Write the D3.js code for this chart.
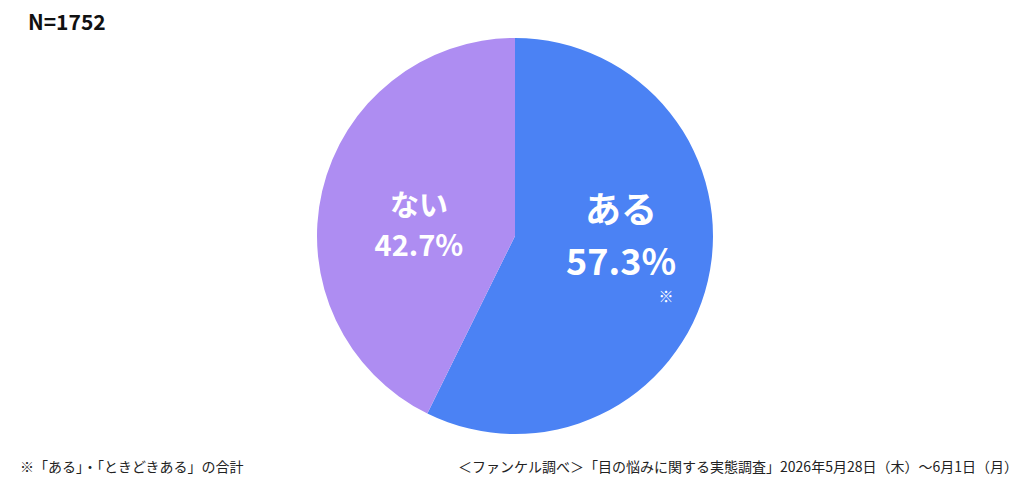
<!DOCTYPE html>
<html>
<head>
<meta charset="utf-8">
<script src="https://cdn.jsdelivr.net/npm/d3@7"></script>
<style>
  body { margin: 0; background: #fff; }
  text { font-family: "Noto Sans CJK JP", "Noto Sans", sans-serif; }
</style>
</head>
<body>
<div id="chart"></div>
<script>
// data
let labels = ["ある", "ない"];
let values = [57.3, 42.7];
let colors = ["#4b82f4", "#ae8df2"];
let sampleText = "N=1752";
let noteLeft = "※「ある」・「ときどきある」の合計";
let noteRight = "＜ファンケル調べ＞「目の悩みに関する実態調査」2026年5月28日（木）～6月1日（月）";

let svgWidth = 1024;
let svgHeight = 486;

let svg = d3.select("#chart")
    .append("svg")
    .attr("width", svgWidth)
    .attr("height", svgHeight)

let cx = 515, cy = 236, radius = 198;

let pieGroup = svg.append("g")
    .attr("transform", `translate(${cx}, ${cy})`)

let pie = d3.pie().sort(null).value(d => d)
let arc = d3.arc().innerRadius(0).outerRadius(radius)

let arcs = pie(values)

pieGroup.selectAll("path")
    .data(arcs)
    .enter()
    .append("path")
    .attr("d", arc)
    .attr("fill", (d, i) => colors[i])

// labels inside slices
let labelArc = d3.arc().innerRadius(radius * 0.55).outerRadius(radius * 0.55)
let sizes = [36, 29];
let gaps = [52, 40];
let nudge = [[0, -25], [10, 14]];

arcs.forEach(function (d, i) {
    let [x, y] = labelArc.centroid(d);
    let g = pieGroup.append("g")
        .attr("transform", `translate(${x + nudge[i][0]}, ${y + nudge[i][1]})`)
    g.append("text")
        .attr("text-anchor", "middle")
        .attr("y", -gaps[i] / 2 + sizes[i] * 0.36)
        .attr("fill", "#fff")
        .attr("font-weight", "bold")
        .attr("font-size", sizes[i])
        .text(labels[i])
    g.append("text")
        .attr("text-anchor", "middle")
        .attr("y", gaps[i] / 2 + sizes[i] * 0.36)
        .attr("fill", "#fff")
        .attr("font-weight", "bold")
        .attr("font-size", sizes[i])
        .text(values[i].toFixed(1) + "%")
    if (i === 0) {
        g.append("text")
            .attr("text-anchor", "middle")
            .attr("x", 45)
            .attr("y", gaps[i] / 2 + 40)
            .attr("fill", "#fff")
            .attr("font-size", 15)
            .text("※")
    }
})

svg.append("text")
    .attr("x", 28)
    .attr("y", 30)
    .attr("font-size", 21)
    .attr("font-weight", "bold")
    .attr("fill", "#111")
    .text(sampleText)

svg.append("text")
    .attr("x", 20)
    .attr("y", 472)
    .attr("font-size", 14)
    .attr("fill", "#222")
    .text(noteLeft)

svg.append("text")
    .attr("x", 1018)
    .attr("y", 472)
    .attr("text-anchor", "end")
    .attr("font-size", 14)
    .attr("fill", "#222")
    .text(noteRight)
</script>
</body>
</html>
